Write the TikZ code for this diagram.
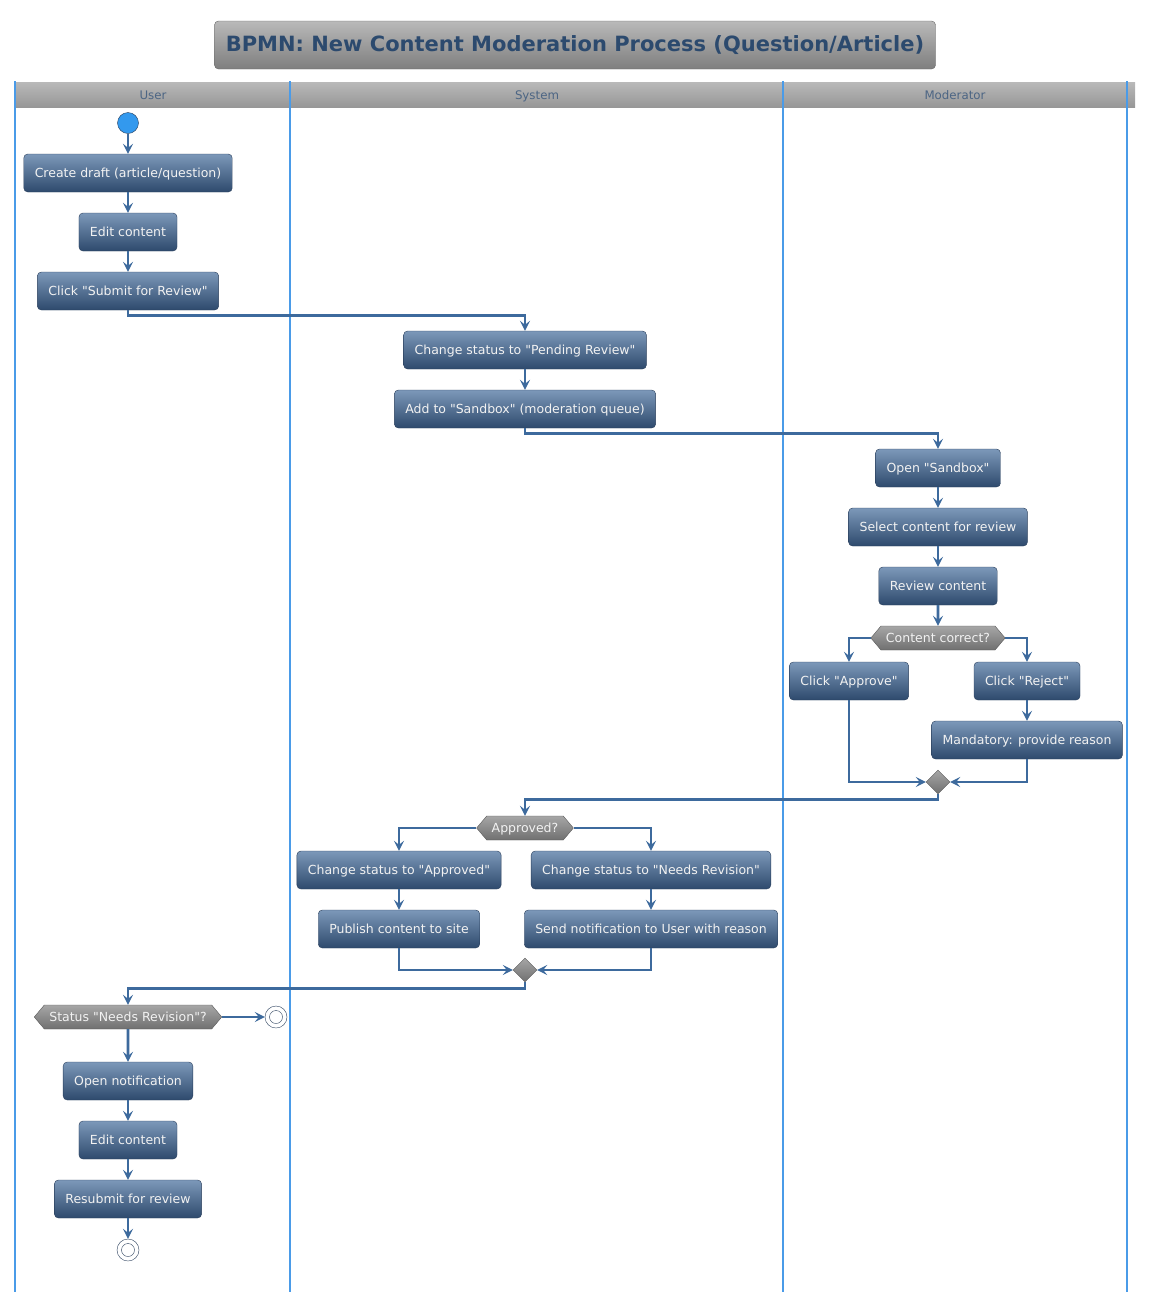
\documentclass[tikz,border=0pt]{standalone}
\usepackage{fontspec}
\setmainfont{DejaVu Sans}[Ligatures=TeXOff]
\usetikzlibrary{arrows.meta,shapes.geometric,shapes.symbols}
\definecolor{flowcol}{HTML}{3D6A9D}
\definecolor{lanecol}{HTML}{4A9BE8}
\definecolor{acttop}{HTML}{7C98B9}
\definecolor{actbot}{HTML}{2E4A6D}
\definecolor{actline}{HTML}{2A3F5C}
\definecolor{acttext}{HTML}{F2F2F2}
\definecolor{gtop}{HTML}{A6A6A6}
\definecolor{gbot}{HTML}{707070}
\definecolor{htop}{HTML}{B9B9B9}
\definecolor{hbot}{HTML}{979797}
\definecolor{titletext}{HTML}{2C4A6E}
\definecolor{startcol}{HTML}{3399EE}
\begin{document}
\begin{tikzpicture}[x=1pt,y=-1pt,>={Stealth[length=10pt,width=10pt,inset=4pt]}, font=\fontsize{12.5}{15}\selectfont, line join=miter,
	act/.style={draw=actline, rounded corners=4pt, top color=acttop, bottom color=actbot, text=acttext, minimum height=38pt, inner xsep=11pt, text height=10pt, text depth=0.8pt},
	cond/.style={signal, signal to=west and east, signal from=nowhere, signal pointer angle=100, draw=gbot!80!black, top color=gtop, bottom color=gbot, text=acttext, minimum height=24pt, inner xsep=5pt, text height=10pt, text depth=0.8pt},
	merge/.style={diamond, draw=gbot!80!black, top color=gtop, bottom color=gbot, minimum size=24pt, inner sep=0pt},
	startnode/.style={circle, fill=startcol, draw=actline, minimum size=21pt, inner sep=0pt},
	endnode/.style={circle, fill=white, draw=actline, minimum size=22pt, inner sep=0pt, path picture={\draw[actline] (path picture bounding box.center) circle (6.5pt);}},
	flow/.style={->, draw=flowcol, line width=2.8pt},
	lane/.style={draw=lanecol, line width=1.6pt},
	lanelabel/.style={text=titletext!85!white, font=\fontsize{11.8}{14}\selectfont, text height=9pt, text depth=0pt}]
	\useasboundingbox (0,0) rectangle (1151,1304);
	\node[draw=gray!80!black, rounded corners=4pt, top color=htop, bottom color=gbot!90!white, minimum width=721pt, minimum height=48pt, text=titletext, font=\fontsize{21}{25}\selectfont\bfseries] (title) at (575,45) {BPMN: New Content Moderation Process (Question/Article)};
	\shade[top color=htop, bottom color=hbot] (15,82) rectangle (1135,107);
	\foreach \x in {15,290,783,1127} \draw[lane] (\x,81) -- (\x,1292);
	\node[lanelabel] (luser) at (153,95) {User};
	\node[lanelabel] (lsystem) at (537,95) {System};
	\node[lanelabel] (lmod) at (955,95) {Moderator};
	\node[startnode] (start) at (128,123) {};
	\node[act] (draft) at (128,173) {Create draft (article/question)};
	\node[act] (edit1) at (128,232) {Edit content};
	\node[act] (submit) at (128,291) {Click "Submit for Review"};
	\node[act] (pending) at (525,350) {Change status to "Pending Review"};
	\node[act] (sandbox) at (525,409) {Add to "Sandbox" (moderation queue)};
	\node[act] (opensb) at (938,468) {Open "Sandbox"};
	\node[act] (select) at (938,527) {Select content for review};
	\node[act] (review) at (938,586) {Review content};
	\node[cond] (correct) at (938,638) {Content correct?};
	\node[act] (approve) at (849,681) {Click "Approve"};
	\node[act] (reject) at (1027,681) {Click "Reject"};
	\node[act] (reason) at (1027,740) {Mandatory: provide reason};
	\node[merge] (merge1) at (938,782) {};
	\node[cond] (approved) at (525,828) {Approved?};
	\node[act] (chappr) at (399,870) {Change status to "Approved"};
	\node[act] (chrev) at (651,870) {Change status to "Needs Revision"};
	\node[act] (publish) at (399,929) {Publish content to site};
	\node[act] (notify) at (651,929) {Send notification to User with reason};
	\node[merge] (merge2) at (525,970) {};
	\node[cond] (status) at (128,1017) {Status "Needs Revision"?};
	\node[endnode] (end1) at (276,1017) {};
	\node[act] (opennot) at (128,1081) {Open notification};
	\node[act] (edit2) at (128,1140) {Edit content};
	\node[act] (resubmit) at (128,1199) {Resubmit for review};
	\node[endnode] (end2) at (128,1250) {};
	\draw[flow] (start) -- (draft);
	\draw[flow] (draft) -- (edit1);
	\draw[flow] (edit1) -- (submit);
	\draw[flow] (submit.south) -- ++(0,5) -| (pending.north);
	\draw[flow] (pending) -- (sandbox);
	\draw[flow] (sandbox.south) -- ++(0,5) -| (opensb.north);
	\draw[flow] (opensb) -- (select);
	\draw[flow] (select) -- (review);
	\draw[flow] (review) -- (correct);
	\draw[flow] (correct.west) -| (approve.north);
	\draw[flow] (correct.east) -| (reject.north);
	\draw[flow] (reject) -- (reason);
	\draw[flow] (approve.south) |- (merge1.west);
	\draw[flow] (reason.south) |- (merge1.east);
	\draw[flow] (merge1.south) -- ++(0,5) -| (approved.north);
	\draw[flow] (approved.west) -| (chappr.north);
	\draw[flow] (approved.east) -| (chrev.north);
	\draw[flow] (chappr) -- (publish);
	\draw[flow] (chrev) -- (notify);
	\draw[flow] (publish.south) |- (merge2.west);
	\draw[flow] (notify.south) |- (merge2.east);
	\draw[flow] (merge2.south) -- ++(0,6) -| (status.north);
	\draw[flow] (status.east) -- (end1);
	\draw[flow] (status) -- (opennot);
	\draw[flow] (opennot) -- (edit2);
	\draw[flow] (edit2) -- (resubmit);
	\draw[flow] (resubmit) -- (end2);
\end{tikzpicture}
\end{document}
